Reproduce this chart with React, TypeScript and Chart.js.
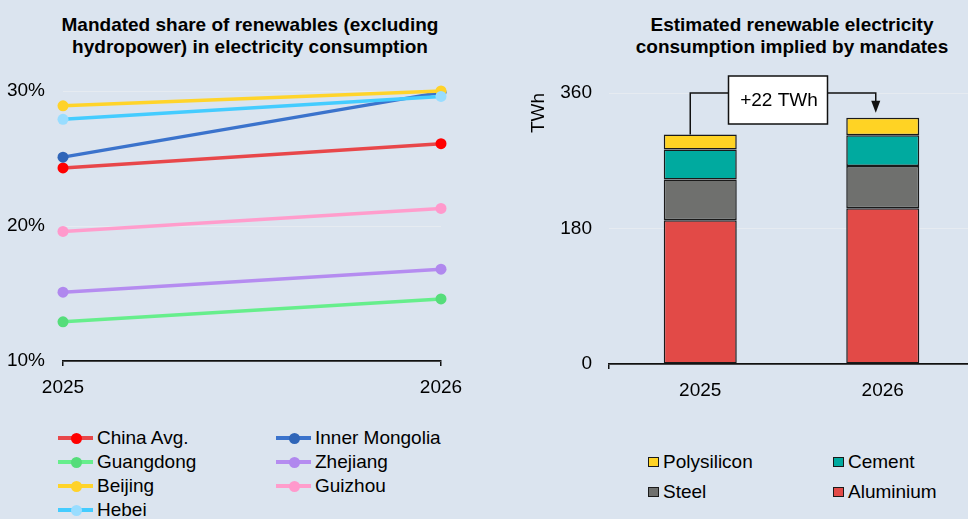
import React, { useEffect, useRef } from "react";
import { Chart, registerables } from "chart.js";

Chart.register(...registerables);

const FONT = "'Liberation Sans', Arial, sans-serif";
const BG = "#dbe4ef";
const GRID = "#e6ebf1";

// Left chart data
const years = ["2025", "2026"];
const chinaAvg = [24.3, 26.1];
const innerMongolia = [25.1, 29.9];
const guangdong = [12.9, 14.6];
const zhejiang = [15.1, 16.8];
const beijing = [28.9, 30.0];
const guizhou = [19.6, 21.3];
const hebei = [27.9, 29.6];
const shareTicks = [10, 20, 30];

// Right chart data
const barYears = ["2025", "2026"];
const aluminium = [191, 207];
const steel = [54, 56];
const cement = [40, 41];
const polysilicon = [20, 23];
const twhTicks = [0, 180, 360];

const lineSeries = [
  { label: "China Avg.", data: chinaAvg, line: "#e8474a", point: "#ff0000", order: 5 },
  { label: "Inner Mongolia", data: innerMongolia, line: "#3b73cc", point: "#2f65b8", order: 4 },
  { label: "Guangdong", data: guangdong, line: "#66ee8c", point: "#55dd7a", order: 6 },
  { label: "Zhejiang", data: zhejiang, line: "#b58cf0", point: "#b088ee", order: 7 },
  { label: "Beijing", data: beijing, line: "#ffd42a", point: "#ffd22a", order: 1 },
  { label: "Guizhou", data: guizhou, line: "#ff9dcc", point: "#ff99cc", order: 3 },
  { label: "Hebei", data: hebei, line: "#44ccff", point: "#99ddff", order: 0 },
];

const barSeries = [
  { label: "Aluminium", data: aluminium, color: "#e24a47" },
  { label: "Steel", data: steel, color: "#6f706e" },
  { label: "Cement", data: cement, color: "#00aa9f" },
  { label: "Polysilicon", data: polysilicon, color: "#ffd324" },
];

function LeftChart() {
  const ref = useRef<HTMLCanvasElement>(null);
  useEffect(() => {
    const chart = new Chart(ref.current!, {
      type: "line",
      data: {
        labels: years,
        datasets: lineSeries.map((s) => ({
          label: s.label,
          data: s.data,
          borderColor: s.line,
          backgroundColor: s.point,
          pointBackgroundColor: s.point,
          pointBorderColor: s.point,
          pointRadius: 5.5,
          pointBorderWidth: 0,
          borderWidth: 3.5,
          order: s.order,
          clip: false as any,
        })),
      },
      options: {
        responsive: false,
        animation: false,
        layout: { padding: { left: 0, right: 49, top: 91, bottom: 0 } },
        plugins: { legend: { display: false }, tooltip: { enabled: false } },
        scales: {
          x: {
            type: "category",
            offset: false,
            grid: { drawOnChartArea: false, drawTicks: true, tickLength: 5, color: "#111", lineWidth: 1.5 },
            border: { display: true, color: "#111", width: 1.8 },
            ticks: { font: { family: FONT, size: 19 }, color: "#000", padding: 10, maxRotation: 0 },
            afterFit: (s: any) => { s.height = 39; },
          },
          y: {
            min: 10,
            max: 30,
            afterBuildTicks: (s: any) => { s.ticks = shareTicks.map((v) => ({ value: v })); },
            ticks: { font: { family: FONT, size: 19 }, color: "#000", padding: 18, callback: (v: any) => v + "%" },
            grid: { color: GRID, drawTicks: false, lineWidth: 1 },
            border: { display: false },
            afterFit: (s: any) => { s.width = 63; },
          },
        },
      },
    });
    return () => chart.destroy();
  }, []);
  return <canvas ref={ref} width={490} height={400} style={{ position: "absolute", left: 0, top: 0, width: 490, height: 400 }} />;
}

function RightChart() {
  const ref = useRef<HTMLCanvasElement>(null);
  useEffect(() => {
    const totals = barYears.map((_, i) => barSeries.reduce((a, s) => a + s.data[i], 0));
    const annot = {
      id: "annot",
      afterDatasetsDraw(chart: any) {
        const { ctx } = chart;
        const xs = chart.scales.x;
        const ys = chart.scales.y;
        const x0 = xs.getPixelForValue(0) - 10;
        const x1 = xs.getPixelForValue(1) - 7;
        const yTop0 = ys.getPixelForValue(totals[0]);
        const yTop1 = ys.getPixelForValue(totals[1]);
        const yLine = ys.getPixelForValue(ys.max);
        const bw = 99, bh = 48;
        const bcx = (x0 + x1) / 2 - 5;
        const bcy = yLine + 7;
        const tip = yTop1 - 5;
        ctx.save();
        ctx.strokeStyle = "#111";
        ctx.lineWidth = 1.5;
        ctx.beginPath();
        ctx.moveTo(x0, yTop0);
        ctx.lineTo(x0, yLine);
        ctx.lineTo(bcx - bw / 2, yLine);
        ctx.moveTo(bcx + bw / 2, yLine);
        ctx.lineTo(x1, yLine);
        ctx.lineTo(x1, tip - 10);
        ctx.stroke();
        ctx.fillStyle = "#111";
        ctx.beginPath();
        ctx.moveTo(x1 - 4.5, tip - 12);
        ctx.lineTo(x1 + 4.5, tip - 12);
        ctx.lineTo(x1, tip);
        ctx.closePath();
        ctx.fill();
        ctx.fillStyle = "#fff";
        ctx.fillRect(bcx - bw / 2, bcy - bh / 2, bw, bh);
        ctx.strokeRect(bcx - bw / 2, bcy - bh / 2, bw, bh);
        ctx.fillStyle = "#000";
        ctx.font = `19px ${FONT}`;
        ctx.textAlign = "center";
        ctx.textBaseline = "middle";
        const diff = totals[1] - totals[0];
        ctx.fillText(`+${diff} TWh`, bcx + 1, bcy + 1);
        ctx.restore();
      },
    };
    const chart = new Chart(ref.current!, {
      type: "bar",
      data: {
        labels: barYears,
        datasets: barSeries.map((s) => ({
          label: s.label,
          data: s.data,
          backgroundColor: s.color,
          borderColor: "#1a1a1a",
          borderWidth: 1.5,
          borderSkipped: false as any,
          barPercentage: 0.4,
          categoryPercentage: 1,
        })),
      },
      options: {
        responsive: false,
        animation: false,
        layout: { padding: { left: 0, right: 0, top: 93, bottom: 0 } },
        plugins: { legend: { display: false }, tooltip: { enabled: false } },
        scales: {
          x: {
            stacked: true,
            offset: true,
            grid: {
              drawOnChartArea: false,
              drawTicks: true,
              tickLength: 5,
              lineWidth: 1.5,
              color: (c: any) => (c.index === 0 ? "#111" : "rgba(0,0,0,0)"),
            },
            border: { display: true, color: "#111", width: 1.8 },
            ticks: { font: { family: FONT, size: 19 }, color: "#000", padding: 10, maxRotation: 0 },
            afterFit: (s: any) => { s.height = 46; },
          },
          y: {
            stacked: true,
            min: 0,
            max: 360,
            afterBuildTicks: (s: any) => { s.ticks = twhTicks.map((v) => ({ value: v })); },
            ticks: { font: { family: FONT, size: 19 }, color: "#000", padding: 17 },
            grid: { color: GRID, drawTicks: false, lineWidth: 1 },
            border: { display: false },
            title: {
              display: true,
              text: "TWh",
              align: "end",
              color: "#000",
              font: { family: FONT, size: 19 },
              padding: { top: 37, bottom: 0 },
            },
            afterFit: (s: any) => { s.width = 119; },
          },
        },
      },
      plugins: [annot],
    });
    return () => chart.destroy();
  }, []);
  return <canvas ref={ref} width={484} height={410} style={{ position: "absolute", left: 490, top: 0, width: 484, height: 410 }} />;
}

const textStyle: React.CSSProperties = {
  position: "absolute",
  fontFamily: FONT,
  fontSize: 19,
  lineHeight: "22px",
  color: "#000",
  whiteSpace: "nowrap",
};

function LineLegendItem({ s, x, y }: { s: any; x: number; y: number }) {
  return (
    <>
      <div style={{ position: "absolute", left: x, top: y - 1.75, width: 35, height: 3.5, background: s.line }} />
      <div style={{ position: "absolute", left: x + 18 - 5.5, top: y - 5.5, width: 11, height: 11, borderRadius: "50%", background: s.point }} />
      <div style={{ ...textStyle, left: x + 39, top: y - 11 }}>{s.label}</div>
    </>
  );
}

function BarLegendItem({ s, x, y }: { s: any; x: number; y: number }) {
  return (
    <>
      <div style={{ position: "absolute", left: x, top: y - 5, width: 9, height: 8, background: s.color, border: "1.5px solid #1a1a1a" }} />
      <div style={{ ...textStyle, left: x + 15, top: y - 11 }}>{s.label}</div>
    </>
  );
}

export default function App() {
  const lineCols = [58, 276];
  const lineRows = [438, 462, 486, 510];
  const byLabel = (l: string) => lineSeries.find((s) => s.label === l)!;
  const barBy = (l: string) => barSeries.find((s) => s.label === l)!;
  return (
    <div style={{ position: "absolute", left: 0, top: 0, width: 968, height: 519, overflow: "hidden", background: BG }}>
      <div style={{ ...textStyle, fontWeight: "bold", textAlign: "center", left: 0, width: 500, top: 14 }}>
        Mandated share of renewables (excluding
        <br />
        hydropower) in electricity consumption
      </div>
      <div style={{ ...textStyle, fontWeight: "bold", textAlign: "center", left: 592, width: 400, top: 14 }}>
        Estimated renewable electricity
        <br />
        consumption implied by mandates
      </div>
      <LeftChart />
      <RightChart />
      <LineLegendItem s={byLabel("China Avg.")} x={lineCols[0]} y={lineRows[0]} />
      <LineLegendItem s={byLabel("Inner Mongolia")} x={lineCols[1]} y={lineRows[0]} />
      <LineLegendItem s={byLabel("Guangdong")} x={lineCols[0]} y={lineRows[1]} />
      <LineLegendItem s={byLabel("Zhejiang")} x={lineCols[1]} y={lineRows[1]} />
      <LineLegendItem s={byLabel("Beijing")} x={lineCols[0]} y={lineRows[2]} />
      <LineLegendItem s={byLabel("Guizhou")} x={lineCols[1]} y={lineRows[2]} />
      <LineLegendItem s={byLabel("Hebei")} x={lineCols[0]} y={lineRows[3]} />
      <BarLegendItem s={barBy("Polysilicon")} x={648} y={462} />
      <BarLegendItem s={barBy("Cement")} x={833} y={462} />
      <BarLegendItem s={barBy("Steel")} x={648} y={492} />
      <BarLegendItem s={barBy("Aluminium")} x={833} y={492} />
    </div>
  );
}
